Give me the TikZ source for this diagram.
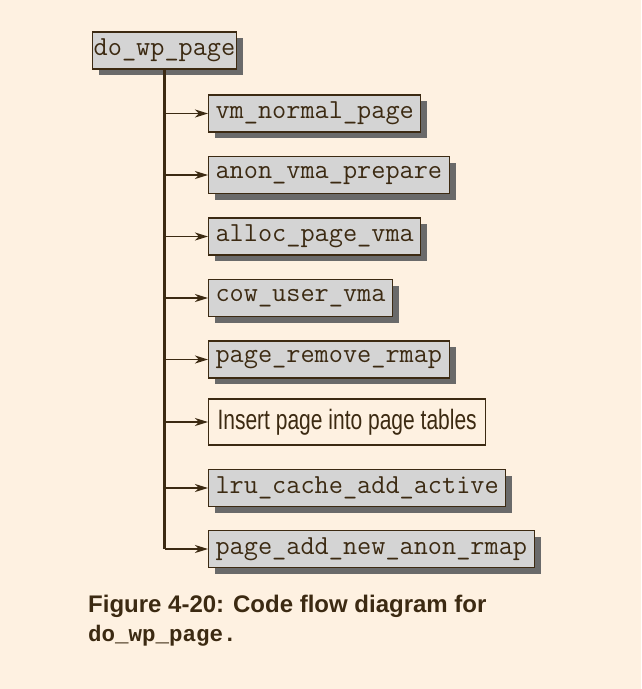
\documentclass[tikz,border=0pt]{standalone}
\usepackage{fontspec}
\usepackage{xcolor}
\usepackage{tikz}
\usetikzlibrary{arrows.meta,shadows}
\setmainfont{Liberation Sans}
\newfontfamily\codefont{Liberation Mono}
\newfontfamily\condfont[FakeStretch=0.75]{Liberation Sans}
\definecolor{pagebg}{HTML}{FEF1E1}
\definecolor{inkc}{HTML}{3C2A12}
\definecolor{boxfill}{HTML}{D4D4D4}
\definecolor{shadowc}{HTML}{6A6A6A}
\tikzset{
  funcnode/.style={draw=inkc, line width=1.1pt, fill=boxfill, text=inkc, anchor=west,
               minimum height=37pt, inner xsep=7pt, inner ysep=2pt, font=\ttfamily\fontsize{27.5}{30}\selectfont,
               drop shadow={shadow xshift=6.5pt, shadow yshift=-6pt, fill=shadowc, opacity=1}},
  stepnode/.style={draw=inkc, line width=1.1pt, fill=pagebg, text=inkc, anchor=west,
               minimum height=46pt, inner xsep=9pt, font=\condfont\fontsize{28}{30}\selectfont},
  flow/.style={-{Stealth[length=13pt,width=8pt,inset=4pt]}, line width=1.5pt, draw=inkc},
  trunk/.style={line width=2.6pt, draw=inkc},
  captext/.style={anchor=base west, inner sep=0pt, text=inkc},
}
\begin{document}
\begin{tikzpicture}[x=1pt,y=-1pt]
  \fill[pagebg] (0,0) rectangle (641,689);
  \useasboundingbox (0,0) rectangle (641,689);
  \node[funcnode, anchor=center, inner xsep=1.5pt] (top) at (164.5,50.5) {do\_wp\_page};
  \node[funcnode] (n1) at (208,113.5) {vm\_normal\_page};
  \node[funcnode] (n2) at (208,175) {anon\_vma\_prepare};
  \node[funcnode] (n3) at (208,236.5) {alloc\_page\_vma};
  \node[funcnode] (n4) at (208,298) {cow\_user\_vma};
  \node[funcnode] (n5) at (208,359.5) {page\_remove\_rmap};
  \node[stepnode] (n6) at (208,422) {Insert page into page tables};
  \node[funcnode] (n7) at (208,488) {lru\_cache\_add\_active};
  \node[funcnode] (n8) at (208,549) {page\_add\_new\_anon\_rmap};
  \draw[trunk] (top.south) -- (top |- n8);
  \foreach \n in {n1,n2,n3,n4,n5,n6,n7,n8}
    \draw[flow] (top |- \n) -- (\n.west);
  \node[captext, font=\bfseries\fontsize{24}{26}\selectfont] (cap1) at (88,612)
    {Figure 4-20: Code flow diagram for};
  \node[captext, font=\codefont\bfseries\fontsize{22.5}{26}\selectfont] (cap2) at (88,641)
    {do\_wp\_page.};
\end{tikzpicture}
\end{document}
